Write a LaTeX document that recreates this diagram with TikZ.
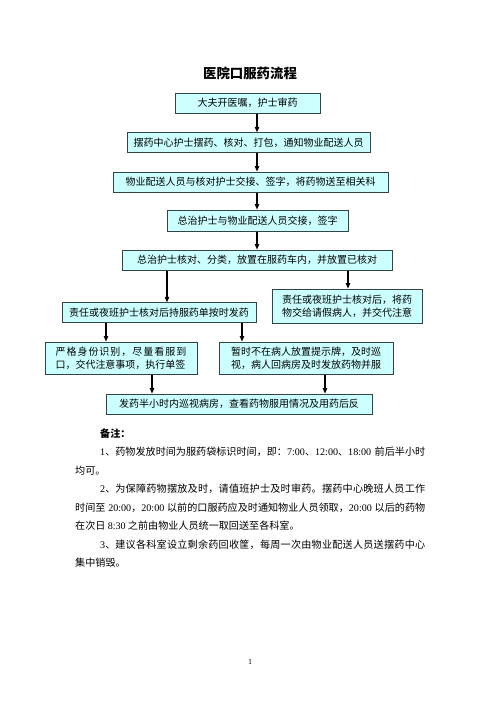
\documentclass[tikz,border=0pt]{standalone}
\usepackage{fontspec}
\setmainfont{Noto Sans CJK SC}
\newfontfamily\lat{Liberation Serif}
\usetikzlibrary{arrows.meta}
\definecolor{boxfill}{HTML}{CCFFFF}
\definecolor{boxline}{HTML}{334444}
\newcommand\gp{\hskip 0pt plus 1fil\relax}
\begin{document}
\begin{tikzpicture}[x=1pt,y=-1pt,
  box/.style={draw=boxline, line width=1pt, fill=boxfill, inner sep=0pt,
    font=\fontsize{10}{13}\selectfont, align=center},
  arr/.style={-{Triangle[length=5.5pt,width=4.5pt]}, line width=1.1pt, black},
  note/.style={anchor=west, inner sep=0pt, font=\fontsize{10.1}{12}\selectfont}]
\fill[white] (0,0) rectangle (500,707);
\useasboundingbox (0,0) rectangle (500,707);

\node[inner sep=0pt, font=\fontsize{13.4}{16}\selectfont\bfseries] (title) at (250,73) {医院口服药流程};

\node[box, minimum width=145, minimum height=20] (b1) at (247.5,103) {大夫开医嘱，护士审药};
\node[box, minimum width=243, minimum height=19.5] (b2) at (248.5,142.5) {摆药中心护士摆药、核对、打包，通知物业配送人员};
\node[box, minimum width=275, minimum height=20] (b3) at (250.5,182) {物业配送人员与核对护士交接、签字，将药物送至相关科};
\node[box, minimum width=181, minimum height=21] (b4) at (257.5,220.5) {总治护士与物业配送人员交接，签字};
\node[box, minimum width=270, minimum height=20] (b5) at (257,260) {总治护士核对、分类，放置在服药车内，并放置已核对};
\node[box, minimum width=194, minimum height=19.5] (b6) at (159,312.5) {责任或夜班护士核对后持服药单按时发药};
\node[box, minimum width=150, minimum height=34] (b8) at (347,306) {责任或夜班护士核对后，将药\\物交给请假病人，并交代注意};
\node[box, minimum width=152, minimum height=32] (b7) at (121,358) {\makebox[131pt][s]{严\gp 格\gp 身\gp 份\gp 识\gp 别\gp ，\gp 尽\gp 量\gp 看\gp 服\gp 到}\\\makebox[131pt][s]{口，交代注意事项，执行单签}};
\node[box, minimum width=174, minimum height=32] (b10) at (306,358) {暂时不在病人放置提示牌，及时巡\\视，病人回病房及时发放药物并服};
\node[box, minimum width=266, minimum height=20] (b9) at (239,404) {发药半小时内巡视病房，查看药物服用情况及用药后反};

\coordinate (cx) at (257,0);
\coordinate (c56) at (167,0);
\coordinate (c58) at (348,0);
\coordinate (c67) at (106,0);
\coordinate (c610) at (242,0);
\coordinate (c79) at (152,0);
\coordinate (c109) at (325,0);

\draw[arr] (b1.south -| cx) -- (b2.north -| cx);
\draw[arr] (b2.south -| cx) -- (b3.north -| cx);
\draw[arr] (b3.south -| cx) -- (b4.north -| cx);
\draw[arr] (b4.south -| cx) -- (b5.north -| cx);
\draw[arr] (b5.south -| c56) -- (b6.north -| c56);
\draw[arr] (b5.south -| c58) -- (b8.north -| c58);
\draw[arr] (b6.south -| c67) -- (b7.north -| c67);
\draw[arr] (b6.south -| c610) -- (b10.north -| c610);
\draw[arr] (b7.south -| c79) -- (b9.north -| c79);
\draw[arr] (b10.south -| c109) -- (b9.north -| c109);

\node[note, font=\fontsize{10.1}{12}\selectfont\bfseries] (n0) at (100,434) {备注：};
\node[note] (n1) at (100,452) {\makebox[325pt][s]{{\lat 1}、药物发放时间为服药袋标识时间，即：{\lat 7:00}、{\lat 12:00}、{\lat 18:00} 前后半小时}};
\node[note] (n2) at (75,470.5) {均可。};
\node[note] (n3) at (100,489) {\makebox[325pt][s]{{\lat 2}、为\gp 保\gp 障\gp 药\gp 物\gp 摆\gp 放\gp 及\gp 时\gp ，\gp 请\gp 值\gp 班\gp 护\gp 士\gp 及\gp 时\gp 审\gp 药\gp 。\gp 摆\gp 药\gp 中\gp 心\gp 晚\gp 班\gp 人\gp 员\gp 工\gp 作}};
\node[note] (n4) at (75,507.5) {\makebox[350pt][s]{时间至 {\lat 20:00}，{\lat 20:00} 以前的口服药应及时通知物业人员领取，{\lat 20:00} 以后的药物}};
\node[note] (n5) at (75,526) {在次日 {\lat 8:30} 之前由物业人员统一取回送至各科室。};
\node[note] (n6) at (100,544.5) {\makebox[325pt][s]{{\lat 3}、建\gp 议\gp 各\gp 科\gp 室\gp 设\gp 立\gp 剩\gp 余\gp 药\gp 回\gp 收\gp 筐\gp ，\gp 每\gp 周\gp 一\gp 次\gp 由\gp 物\gp 业\gp 配\gp 送\gp 人\gp 员\gp 送\gp 摆\gp 药\gp 中\gp 心}};
\node[note] (n7) at (75,563) {集中销毁。};

\node[inner sep=0pt, font=\lat\fontsize{8}{10}\selectfont] (pg) at (250,662) {1};
\end{tikzpicture}
\end{document}
